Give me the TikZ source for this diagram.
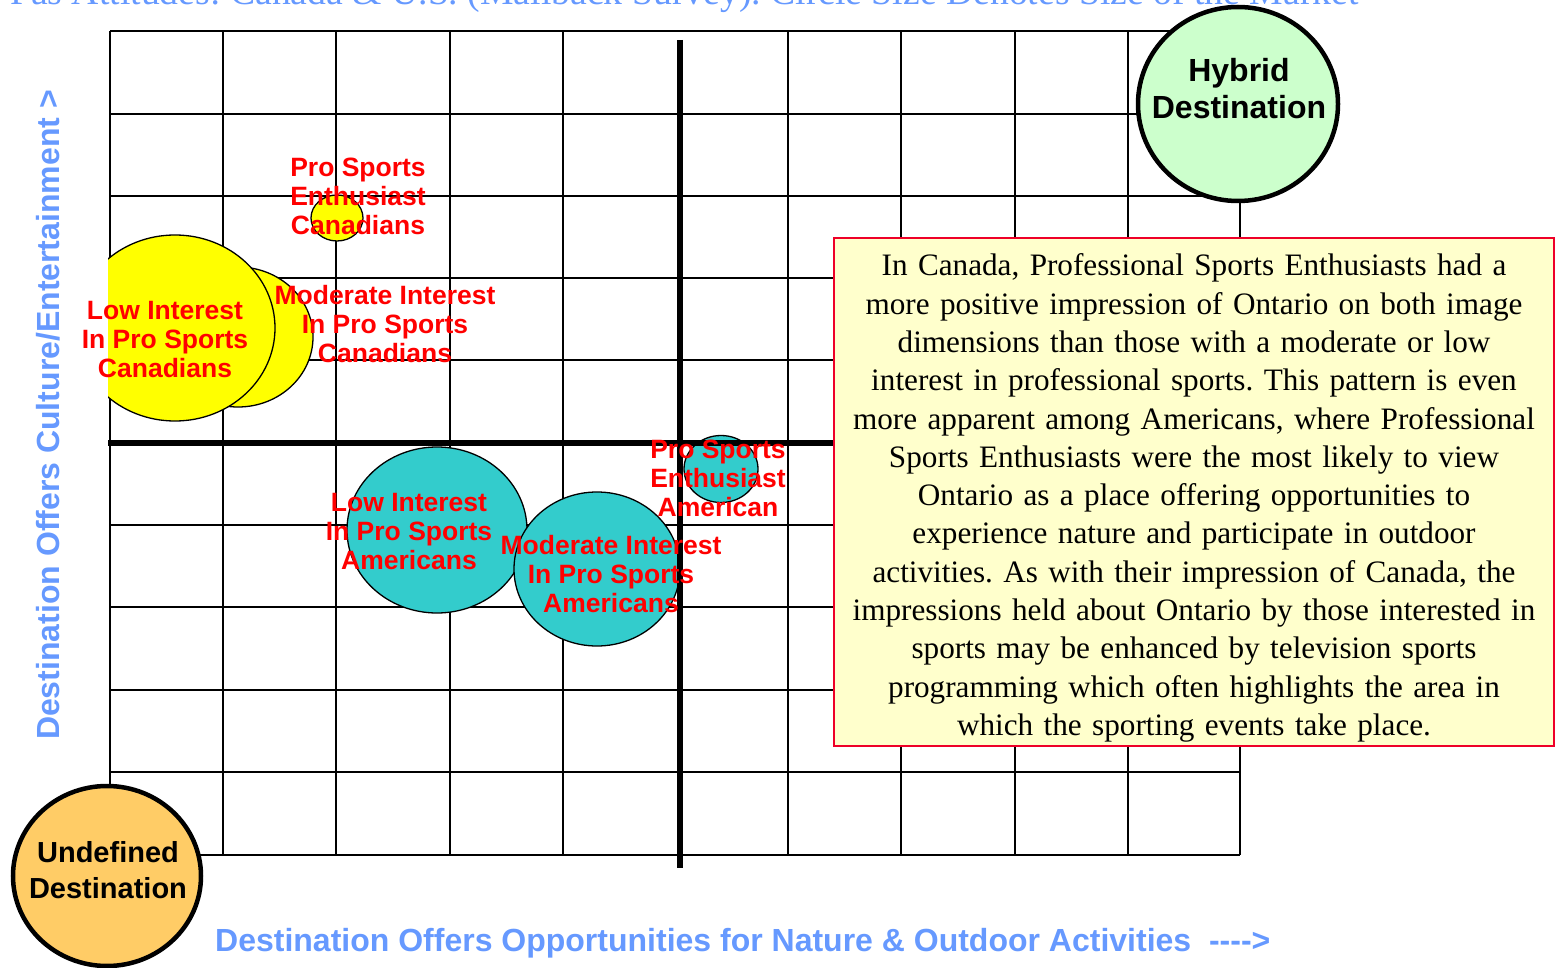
\documentclass[tikz,border=0pt]{standalone}
\usepackage{fontspec}
\setmainfont{Liberation Serif}
\newfontfamily\arialfont{Liberation Sans}
\usetikzlibrary{shapes.geometric}
\definecolor{axisblue}{RGB}{102,153,255}
\definecolor{bubyellow}{RGB}{255,255,0}
\definecolor{bubteal}{RGB}{51,204,204}
\definecolor{hybgreen}{RGB}{204,255,204}
\definecolor{undorange}{RGB}{255,204,102}
\definecolor{boxfill}{RGB}{255,255,204}
\definecolor{boxred}{RGB}{238,0,40}
\frenchspacing
\tikzset{
  gridline/.style={line width=1.4pt, black},
  axisline/.style={line width=6pt, black},
  bubble/.style={ellipse, draw=black, line width=1.3pt, inner sep=0pt},
  bubtext/.style={text=red, font=\arialfont\bfseries\fontsize{26.5}{29}\selectfont, align=center, inner sep=0pt},
  destcircle/.style={ellipse, draw=black, line width=4.5pt, inner sep=0pt},
  desttext/.style={font=\arialfont\bfseries\fontsize{29}{36}\selectfont, align=center, inner sep=0pt},
  axislabel/.style={text=axisblue, font=\arialfont\bfseries\fontsize{32}{36}\selectfont, inner sep=0pt},
  notebox/.style={draw=boxred, fill=boxfill, line width=1.5pt, minimum width=720pt, minimum height=508pt, inner sep=0pt, text width=716pt, align=center, font=\fontsize{31.2}{38.3}\selectfont}
}
\begin{document}
\begin{tikzpicture}[x=1pt,y=-1pt]
\useasboundingbox (0,0) rectangle (1556,968);
% title (mostly cut off, as in the reference)
\node[anchor=base west, text=axisblue, inner sep=0pt, font=\fontsize{37.7}{40}\selectfont] (title) at (10,5) {Pas Attitudes: Canada \& U.S. (Mailback Survey). Circle Size Denotes Size of the Market};
% grid
\foreach \x in {110,223,336,450,563,788,901,1015,1128,1240}
  \draw[gridline] (\x,31) -- (\x,855);
\foreach \y in {31,114,196,278,360,525,607,690,772,855}
  \draw[gridline] (110,\y) -- (1240,\y);
% Canadian bubbles
\node[bubble, fill=bubyellow, minimum width=150pt, minimum height=140pt] (modcan) at (238,337) {};
\begin{scope}
  \clip (108,200) rectangle (400,440);
  \node[bubble, fill=bubyellow, minimum width=200pt, minimum height=186pt] (lowcan) at (175,328) {};
\end{scope}
\node[bubble, fill=bubyellow, minimum width=52pt, minimum height=46pt] (procan) at (337,218) {};
% American bubbles
\node[bubble, fill=bubteal, minimum width=180pt, minimum height=166pt] (lowam) at (437,530) {};
\node[bubble, fill=bubteal, minimum width=166pt, minimum height=154pt] (modam) at (597,569) {};
\node[bubble, fill=bubteal, minimum width=74pt, minimum height=67pt] (proam) at (721,469) {};
% thick axes
\coordinate (vtop) at (680,40);
\coordinate (vbot) at (680,868);
\coordinate (hleft) at (108,443);
\coordinate (hright) at (1240,443);
\draw[axisline] (vtop) -- (vbot);
\draw[axisline] (hleft) -- (hright);
% bubble labels
\node[bubtext] (tprocan) at (358,196) {Pro Sports\\Enthusiast\\Canadians};
\node[bubtext] (tlowcan) at (165,340) {Low Interest\\In Pro Sports\\Canadians};
\node[bubtext] (tmodcan) at (385,324) {Moderate Interest\\In Pro Sports\\Canadians};
\node[bubtext] (tlowam) at (409,532) {Low Interest\\In Pro Sports\\Americans};
\node[bubtext] (tmodam) at (611,574) {Moderate Interest\\In Pro Sports\\Americans};
\node[bubtext] (tproam) at (718,478) {Pro Sports\\Enthusiast\\American};
% note box
\node[notebox] (note) at (1194,492) {};
\node[text width=716pt, align=center, inner sep=0pt, font=\fontsize{31.2}{38.3}\selectfont] (notetext) at (1194,498) {In Canada, Professional Sports Enthusiasts had a\\more positive impression of Ontario on both image\\dimensions than those with a moderate or low\\interest in professional sports. This pattern is even\\more apparent among Americans, where Professional\\Sports Enthusiasts were the most likely to view\\Ontario as a place offering opportunities to\\experience nature and participate in outdoor\\activities. As with their impression of Canada, the\\impressions held about Ontario by those interested in\\sports may be enhanced by television sports\\programming which often highlights the area in\\which the sporting events take place.};
% destination circles
\node[destcircle, fill=hybgreen, minimum width=200pt, minimum height=194pt] (hybrid) at (1238,104) {};
\node[desttext, font=\arialfont\bfseries\fontsize{32}{37}\selectfont] (hybridtext) at (1239,89) {Hybrid\\Destination};
\node[destcircle, fill=undorange, minimum width=188pt, minimum height=180pt] (undef) at (107,876) {};
\node[desttext] (undeftext) at (108,870) {Undefined\\Destination};
% axis labels
\node[axislabel, anchor=base west] (xlabel) at (215,951) {Destination Offers Opportunities for Nature \& Outdoor Activities\ \ ---->};
\node[axislabel, rotate=90] (ylabel) at (48,415) {Destination Offers Culture/Entertainment >};
\end{tikzpicture}
\end{document}
